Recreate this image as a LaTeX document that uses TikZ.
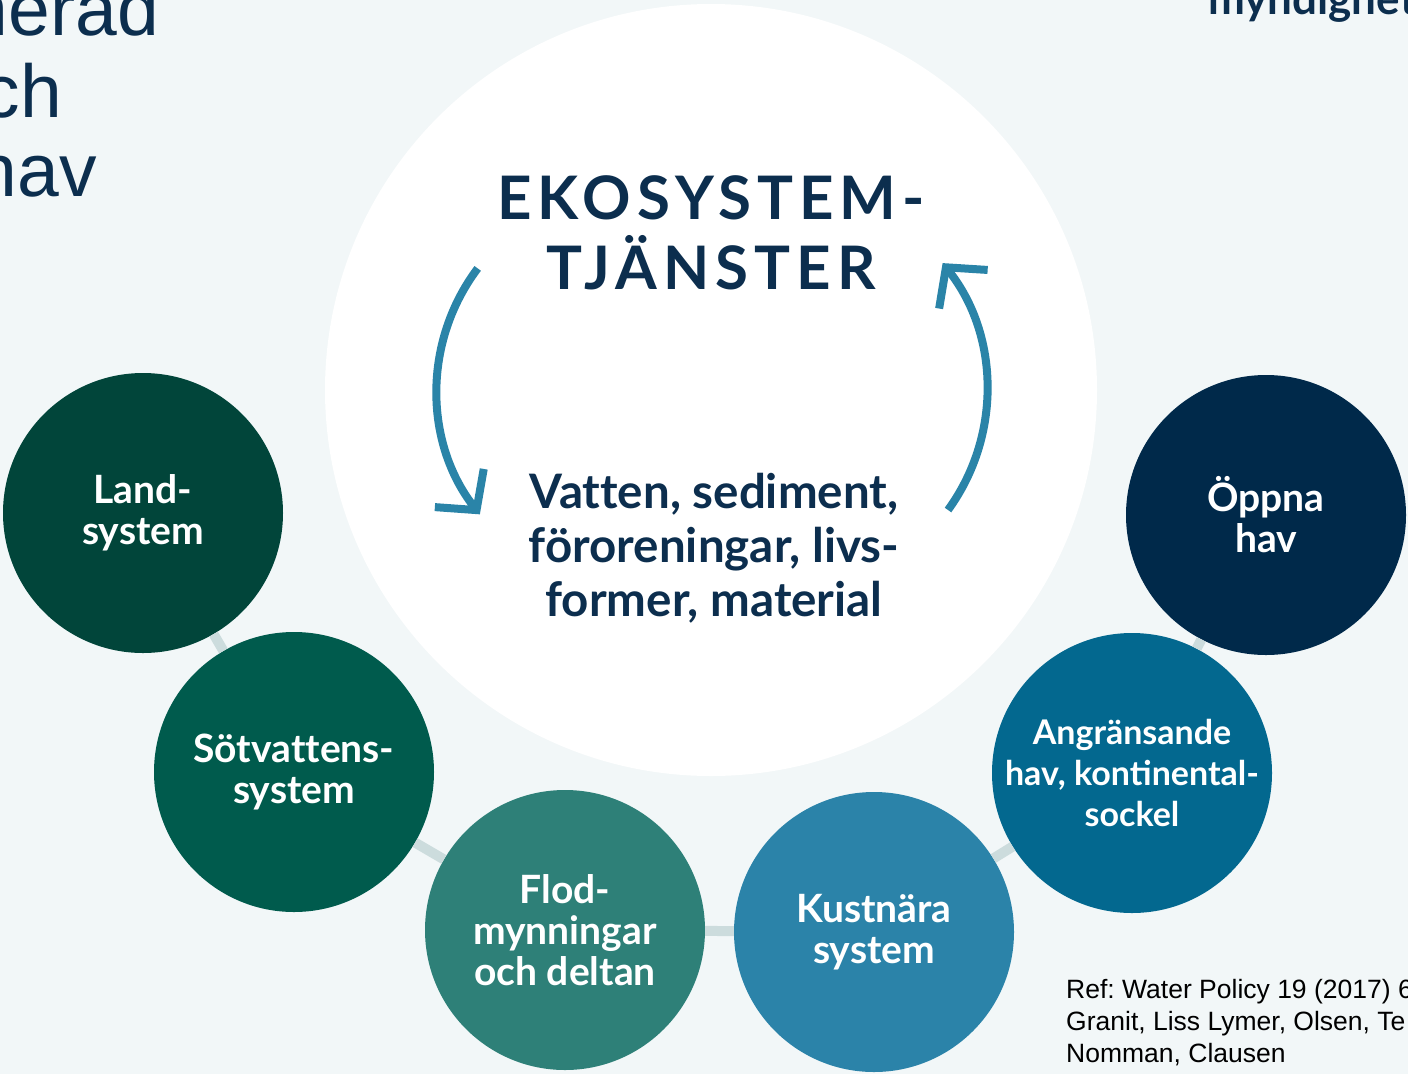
\documentclass[tikz,border=0pt]{standalone}
\usepackage{fontspec}
\setmainfont{Lato}
\newfontfamily\arialf{Liberation Sans}
\usetikzlibrary{arrows.meta}
\definecolor{bgc}{HTML}{F2F7F8}
\definecolor{navy}{HTML}{0C2E4E}
\definecolor{landc}{HTML}{01453A}
\definecolor{sotc}{HTML}{005B4D}
\definecolor{flodc}{HTML}{2E8078}
\definecolor{kustc}{HTML}{2B83A9}
\definecolor{angrc}{HTML}{03688F}
\definecolor{oppc}{HTML}{00294A}
\definecolor{arrc}{HTML}{2A84A8}
\definecolor{linkc}{HTML}{CCDCDD}
\tikzset{
  eco/.style={circle, minimum size=280pt, inner sep=0pt, text=white, align=center,
    font=\bfseries\fontsize{39}{41}\selectfont\addfontfeatures{Ligatures=NoCommon}},
  link/.style={draw=linkc, line width=10pt},
  flow/.style={draw=arrc, line width=8pt, -{Straight Barb[length=28pt,width=62pt,line cap=butt,line join=miter]}},
}
\begin{document}
\frenchspacing
\begin{tikzpicture}[x=1pt,y=-1pt]
\useasboundingbox (0,0) rectangle (1408,1074);
\clip (0,0) rectangle (1408,1074);
\fill[bgc] (0,0) rectangle (1408,1074);
\node[circle, fill=white, minimum size=772pt, inner sep=0pt] (core) at (711,390) {};

% title
\node[text=navy, align=center, inner sep=0pt,
  font=\bfseries\fontsize{60}{70}\selectfont\addfontfeatures{LetterSpace=10}] (title) at (711,233)
  {EKOSYSTEM-\\TJÄNSTER};
\node[text=navy, align=center, inner sep=0pt,
  font=\bfseries\fontsize{47.5}{54}\selectfont\addfontfeatures{Ligatures=NoCommon}] (mid) at (714,548)
  {Vatten, sediment,\\föroreningar, livs-\\former, material};

% arrows
\coordinate (ls) at (477.7,268.4);
\coordinate (rs) at (948.0,510.0);
\draw[flow] (ls) arc[start angle=-143, end angle=-218, radius=202];
\draw[flow] (rs) arc[start angle=36, end angle=-38.5, radius=204];

% circles
\node[eco, fill=landc] (land) at (143,513) {Land-\\system};
\node[eco, fill=sotc] (sot) at (294,772) {Sötvattens-\\system};
\node[eco, fill=flodc] (flod) at (565,930) {Flod-\\mynningar\\och deltan};
\node[eco, fill=kustc] (kust) at (874,932) {Kustnära\\system};
\node[eco, fill=angrc, font=\bfseries\fontsize{34}{41}\selectfont] (angr) at (1132,773) {Angränsande\\hav, kontinental-\\sockel};
\node[eco, fill=oppc] (opp) at (1266,515) {Öppna\\hav};

\draw[link] (land) -- (sot);
\draw[link] (sot) -- (flod);
\draw[link] (flod) -- (kust);
\draw[link] (kust) -- (angr);
\draw[link] (angr) -- (opp);

% cropped texts
\node[anchor=base east, inner sep=0pt, text=navy, font=\arialf\fontsize{75}{80}\selectfont] (t1) at (159,35) {nerad};
\node[anchor=base east, inner sep=0pt, text=navy, font=\arialf\fontsize{75}{80}\selectfont] (t2) at (62,117) {ch};
\node[anchor=base east, inner sep=0pt, text=navy, font=\arialf\fontsize{75}{80}\selectfont] (t3) at (97,196) {hav};
\node[anchor=base west, inner sep=0pt, text=navy, font=\bfseries\fontsize{44}{44}\selectfont] (logo) at (1208,14) {myndigheten};
\node[anchor=north west, align=left, inner sep=0pt, text=black, font=\arialf\fontsize{26.5}{32}\selectfont] (ref) at (1066,979)
  {Ref: Water Policy 19 (2017) 6\\Granit, Liss Lymer, Olsen, Te\\Nomman, Clausen};
\end{tikzpicture}
\end{document}
